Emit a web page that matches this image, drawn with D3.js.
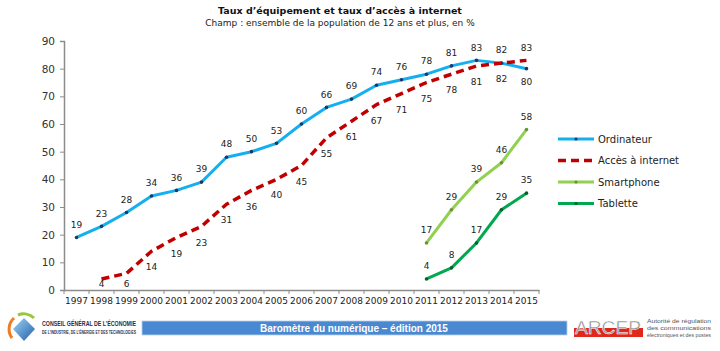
<!DOCTYPE html>
<html>
<head>
<meta charset="utf-8">
<script src="https://cdn.jsdelivr.net/npm/d3@7"></script>
<style>
  body { margin: 0; background: #fff; }
  svg { display: block; font-family: "DejaVu Sans", Verdana, sans-serif; }
</style>
</head>
<body>
<script>
var years = ["1997","1998","1999","2000","2001","2002","2003","2004","2005","2006",
             "2007","2008","2009","2010","2011","2012","2013","2014","2015"];
var ordinateur = [19,23,28,34,36,39,48,50,53,60,66,69,74,76,78,81,83,82,80];
var acces = [null,4,6,14,19,23,31,36,40,45,55,61,67,71,75,78,81,82,83];
var smartphone = [null,null,null,null,null,null,null,null,null,null,null,null,null,null,17,29,39,46,58];
var tablette = [null,null,null,null,null,null,null,null,null,null,null,null,null,null,4,8,17,29,35];
var yTicks = [0,10,20,30,40,50,60,70,80,90];

var WIDTH = 720, HEIGHT = 351;
var LEFT = 64, RIGHT = 539, TOP = 41, BOTTOM = 290;

var series = [
  { name: "Ordinateur", values: ordinateur, color: "#14aff0", dash: null, marker: "#1f3864", label: "above" },
  { name: "Accès à internet", values: acces, color: "#c00000", dash: "8,5", marker: null, label: "below" },
  { name: "Smartphone", values: smartphone, color: "#92d050", dash: null, marker: "#6f8f3a", label: "above" },
  { name: "Tablette", values: tablette, color: "#00a84f", dash: null, marker: "#0d5c2e", label: "above" }
];

var x = d3.scaleBand().domain(years).range([LEFT, RIGHT]);
var y = d3.scaleLinear().domain([0, 90]).range([BOTTOM, TOP]);
var cx = function (i) { return x(years[i]) + x.bandwidth() / 2; };

var svg = d3.select("body").append("svg")
  .attr("width", WIDTH).attr("height", HEIGHT);

// titre
svg.append("text").attr("x", 340).attr("y", 14).attr("text-anchor", "middle")
  .style("font-size", "9.5px").style("font-weight", "bold").attr("fill", "#111")
  .text("Taux d’équipement et taux d’accès à internet");
svg.append("text").attr("x", 340).attr("y", 26).attr("text-anchor", "middle")
  .style("font-size", "9px").attr("fill", "#222")
  .text("Champ : ensemble de la population de 12 ans et plus, en %");

// axes
var yAxis = d3.axisLeft(y).tickValues(yTicks).tickSize(4).tickPadding(5);
var gy = svg.append("g").attr("transform", "translate(" + LEFT + ",0)").call(yAxis);
gy.select(".domain").attr("stroke", "#8c8c8c").attr("stroke-width", 1.5);
gy.selectAll(".tick line").attr("stroke", "#8c8c8c");
gy.selectAll("text").style("font-size", "10.5px").attr("fill", "#333").style("font-family", "DejaVu Sans");

var xAxis = d3.axisBottom(x).tickSize(0).tickPadding(8);
var gx = svg.append("g").attr("transform", "translate(0," + BOTTOM + ")").call(xAxis);
gx.select(".domain").attr("stroke", "#8c8c8c").attr("stroke-width", 1.5);
gx.selectAll("text").style("font-size", "9px").attr("fill", "#222").style("font-family", "DejaVu Sans");
// graduations entre les années
gx.selectAll(".sep").data(years.concat(["end"])).enter().append("line")
  .attr("x1", function (d, i) { return LEFT + i * x.bandwidth(); })
  .attr("x2", function (d, i) { return LEFT + i * x.bandwidth(); })
  .attr("y1", 0).attr("y2", 4).attr("stroke", "#8c8c8c");

// lignes
var line = d3.line()
  .defined(function (d) { return d != null; })
  .x(function (d, i) { return cx(i); })
  .y(function (d) { return y(d); });

series.forEach(function (s) {
  svg.append("path").datum(s.values)
    .attr("d", line)
    .attr("fill", "none")
    .attr("stroke", s.color)
    .attr("stroke-width", s.dash ? 3.5 : 3)
    .attr("stroke-linejoin", "round")
    .attr("stroke-dasharray", s.dash);
  if (s.marker) {
    s.values.forEach(function (d, i) {
      if (d == null) return;
      svg.append("circle").attr("cx", cx(i)).attr("cy", y(d)).attr("r", 1.8).attr("fill", s.marker);
    });
  }
});

// étiquettes
series.forEach(function (s) {
  s.values.forEach(function (d, i) {
    if (d == null) return;
    var pos = s.label;
    if (i === years.length - 1 && s.name === "Ordinateur") pos = "below";
    if (i === years.length - 1 && s.name === "Accès à internet") pos = "above";
    var off = pos === "above" ? -13 : (s.name === "Accès à internet" ? 16 : 13);
    var yy = Math.min(y(d) + off, 284);
    svg.append("text").attr("x", cx(i)).attr("y", yy)
      .attr("dy", "0.35em").attr("text-anchor", "middle")
      .style("font-size", "9px").attr("fill", "#222")
      .text(d);
  });
});

// légende
var lg = svg.append("g");
series.forEach(function (s, i) {
  var ly = 139 + i * 21.5;
  lg.append("line").attr("x1", 558).attr("x2", 594).attr("y1", ly).attr("y2", ly)
    .attr("stroke", s.color).attr("stroke-width", s.dash ? 3.5 : 3).attr("stroke-dasharray", s.dash);
  if (s.marker) lg.append("circle").attr("cx", 576).attr("cy", ly).attr("r", 1.6).attr("fill", s.marker);
  lg.append("text").attr("x", 598).attr("y", ly).attr("dy", "0.35em")
    .style("font-size", "10px").attr("fill", "#222").text(s.name);
});

// bandeau bas
var foot = svg.append("g");
var grad = svg.append("defs").append("linearGradient").attr("id", "dia")
  .attr("x1", 0).attr("y1", 0).attr("x2", 1).attr("y2", 1);
grad.append("stop").attr("offset", 0).attr("stop-color", "#9fd3f5");
grad.append("stop").attr("offset", 1).attr("stop-color", "#1f5fa8");
foot.append("path").attr("d", "M12,338 A15,15 0 0 1 14,318").attr("fill", "none")
  .attr("stroke", "#f07c22").attr("stroke-width", 3);
foot.append("path").attr("d", "M18,315 A15,15 0 0 1 34,318").attr("fill", "none")
  .attr("stroke", "#9bc53d").attr("stroke-width", 3);
foot.append("path").attr("d", "M24,318 L35,329 L24,341 L13,329 Z").attr("fill", "url(#dia)");
foot.append("text").attr("x", 42).attr("y", 326).attr("textLength", 94).attr("lengthAdjust", "spacingAndGlyphs")
  .style("font-family", "Liberation Sans Narrow, Liberation Sans").style("font-size", "7px").style("font-weight", "bold")
  .attr("fill", "#1f2d4a").text("CONSEIL GÉNÉRAL DE L’ÉCONOMIE");
foot.append("text").attr("x", 42).attr("y", 334).attr("textLength", 94).attr("lengthAdjust", "spacingAndGlyphs")
  .style("font-family", "Liberation Sans Narrow, Liberation Sans").style("font-size", "4.5px").style("font-weight", "bold")
  .attr("fill", "#1f2d4a").text("DE L’INDUSTRIE, DE L’ÉNERGIE ET DES TECHNOLOGIES");

foot.append("rect").attr("x", 142).attr("y", 321).attr("width", 425).attr("height", 14)
  .attr("fill", "#4a89d2").attr("stroke", "#b7cfe9").attr("stroke-width", 0.8);
foot.append("text").attr("x", 354).attr("y", 331.5).attr("text-anchor", "middle")
  .style("font-family", "Liberation Sans Narrow, Liberation Sans").style("font-size", "10px").style("font-weight", "bold")
  .attr("fill", "#fff").text("Baromètre du numérique – édition 2015");

foot.append("rect").attr("x", 574).attr("y", 328).attr("width", 69).attr("height", 9).attr("fill", "#e1261c");
foot.append("text").attr("x", 575).attr("y", 334).attr("textLength", 66).attr("lengthAdjust", "spacingAndGlyphs")
  .style("font-family", "Liberation Sans").style("font-size", "19px")
  .attr("fill", "#8a8a8a").attr("stroke", "#fff").attr("stroke-width", 0.5).text("ARCEP");
["Autorité de régulation", "des communications", "électroniques et des postes"].forEach(function (t, i) {
  foot.append("text").attr("x", 647).attr("y", 323 + i * 7).attr("textLength", 64).attr("lengthAdjust", "spacingAndGlyphs")
    .style("font-family", "Liberation Sans").style("font-size", "6px").attr("fill", "#555").text(t);
});
</script>
</body>
</html>
